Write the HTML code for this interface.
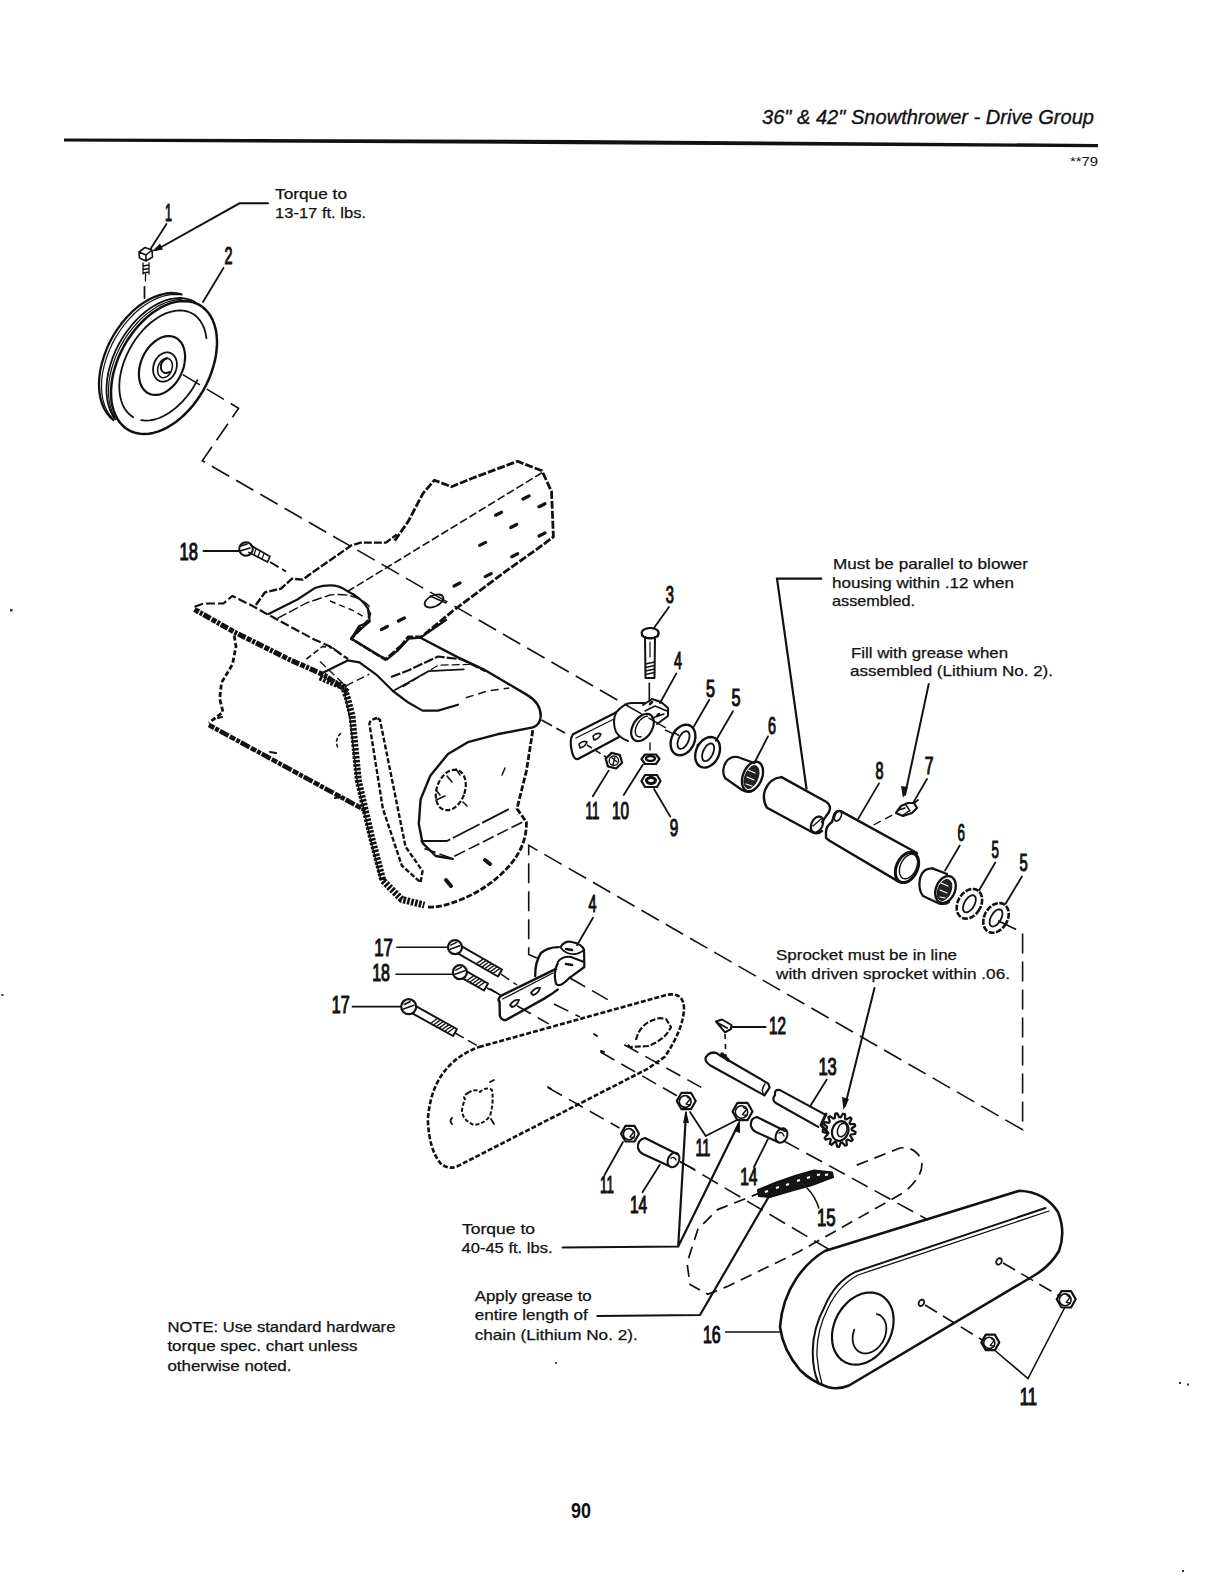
<!DOCTYPE html>
<html><head><meta charset="utf-8"><title>Drive Group</title>
<style>
html,body{margin:0;padding:0;background:#fff;width:1218px;height:1576px;overflow:hidden}
svg{display:block}
text{font-family:"Liberation Sans",sans-serif;fill:#111}
.t{font-size:15px;stroke:#111;stroke-width:0.25}
.n{font-size:23.5px;stroke:#111;stroke-width:1.15}
.k{fill:none;stroke:#111;stroke-linecap:round;stroke-linejoin:round}
.l{fill:none;stroke:#111;stroke-linecap:round}
.d{fill:none;stroke:#111}

</style></head><body>
<svg width="1218" height="1576" viewBox="0 0 1218 1576">
<rect width="1218" height="1576" fill="#fff"/>
<!-- header -->
<text x="762" y="124" font-size="20" font-style="italic" stroke="#111" stroke-width="0.35" textLength="332" lengthAdjust="spacingAndGlyphs">36" &amp; 42" Snowthrower - Drive Group</text>
<path d="M64 138.4 L580 140 L1098 144 L1098 147.2 L580 144.2 L64 141.6 Z" fill="#111"/>
<text x="1070" y="166" font-size="12" textLength="28" lengthAdjust="spacingAndGlyphs">**79</text>

<!-- text notes -->
<g class="t">
<text x="275" y="198.7" textLength="72" lengthAdjust="spacingAndGlyphs">Torque to</text>
<text x="275" y="218.3" textLength="91" lengthAdjust="spacingAndGlyphs">13-17 ft. lbs.</text>
<text x="833" y="568.5" textLength="195" lengthAdjust="spacingAndGlyphs">Must be parallel to blower</text>
<text x="832" y="588" textLength="182" lengthAdjust="spacingAndGlyphs">housing within .12 when</text>
<text x="832" y="606.4" textLength="83" lengthAdjust="spacingAndGlyphs">assembled.</text>
<text x="851" y="657.8" textLength="157" lengthAdjust="spacingAndGlyphs">Fill with grease when</text>
<text x="850" y="676.2" textLength="203" lengthAdjust="spacingAndGlyphs">assembled (Lithium No. 2).</text>
<text x="776" y="959.7" textLength="181" lengthAdjust="spacingAndGlyphs">Sprocket must be in line</text>
<text x="776" y="979.4" textLength="234" lengthAdjust="spacingAndGlyphs">with driven sprocket within .06.</text>
<text x="462" y="1234.2" textLength="73" lengthAdjust="spacingAndGlyphs">Torque to</text>
<text x="461.5" y="1253.4" textLength="91" lengthAdjust="spacingAndGlyphs">40-45 ft. lbs.</text>
<text x="474.7" y="1300.7" textLength="117" lengthAdjust="spacingAndGlyphs">Apply grease to</text>
<text x="474.7" y="1320" textLength="113" lengthAdjust="spacingAndGlyphs">entire length of</text>
<text x="474.7" y="1339.5" textLength="163" lengthAdjust="spacingAndGlyphs">chain (Lithium No. 2).</text>
<text x="167.4" y="1331.5" textLength="228" lengthAdjust="spacingAndGlyphs">NOTE: Use standard hardware</text>
<text x="167.4" y="1350.8" textLength="190" lengthAdjust="spacingAndGlyphs">torque spec. chart unless</text>
<text x="167.4" y="1371.3" textLength="124" lengthAdjust="spacingAndGlyphs">otherwise noted.</text>
</g>
<text x="571" y="1518.3" font-size="21.5" font-weight="bold" textLength="20" lengthAdjust="spacingAndGlyphs">90</text>

<!-- callout numbers -->
<g class="n" id="nums">
<text x="165" y="220.6" textLength="7" lengthAdjust="spacingAndGlyphs">1</text>
<text x="224.6" y="264" textLength="8" lengthAdjust="spacingAndGlyphs">2</text>
<text x="179.6" y="560" textLength="18.4" lengthAdjust="spacingAndGlyphs">18</text>
<text x="665.8" y="602.8" textLength="8.2" lengthAdjust="spacingAndGlyphs">3</text>
<text x="674" y="669.3" textLength="8" lengthAdjust="spacingAndGlyphs">4</text>
<text x="706" y="697.3" textLength="9" lengthAdjust="spacingAndGlyphs">5</text>
<text x="731.4" y="706.3" textLength="9" lengthAdjust="spacingAndGlyphs">5</text>
<text x="768" y="734.4" textLength="8" lengthAdjust="spacingAndGlyphs">6</text>
<text x="875.5" y="778.7" textLength="8" lengthAdjust="spacingAndGlyphs">8</text>
<text x="924.8" y="773.8" textLength="8.8" lengthAdjust="spacingAndGlyphs">7</text>
<text x="585.6" y="818.5" textLength="13.8" lengthAdjust="spacingAndGlyphs">11</text>
<text x="611.9" y="818.5" textLength="17" lengthAdjust="spacingAndGlyphs">10</text>
<text x="669.7" y="835.6" textLength="8.5" lengthAdjust="spacingAndGlyphs">9</text>
<text x="957.6" y="841" textLength="7.4" lengthAdjust="spacingAndGlyphs">6</text>
<text x="991.6" y="858" textLength="7.4" lengthAdjust="spacingAndGlyphs">5</text>
<text x="1019.6" y="871.3" textLength="8.2" lengthAdjust="spacingAndGlyphs">5</text>
<text x="588.5" y="912" textLength="8" lengthAdjust="spacingAndGlyphs">4</text>
<text x="374.2" y="955.5" textLength="18.7" lengthAdjust="spacingAndGlyphs">17</text>
<text x="372.2" y="981" textLength="17.8" lengthAdjust="spacingAndGlyphs">18</text>
<text x="331.8" y="1012.6" textLength="17.8" lengthAdjust="spacingAndGlyphs">17</text>
<text x="769" y="1033.7" textLength="17" lengthAdjust="spacingAndGlyphs">12</text>
<text x="818.4" y="1075" textLength="18.4" lengthAdjust="spacingAndGlyphs">13</text>
<text x="695.4" y="1155.5" textLength="14.9" lengthAdjust="spacingAndGlyphs">11</text>
<text x="600" y="1193.4" textLength="13.8" lengthAdjust="spacingAndGlyphs">11</text>
<text x="629.9" y="1213" textLength="17.2" lengthAdjust="spacingAndGlyphs">14</text>
<text x="740.2" y="1185.4" textLength="17.3" lengthAdjust="spacingAndGlyphs">14</text>
<text x="817" y="1225.6" textLength="18.6" lengthAdjust="spacingAndGlyphs">15</text>
<text x="702.9" y="1342.6" textLength="17.7" lengthAdjust="spacingAndGlyphs">16</text>
<text x="1019.7" y="1404.5" textLength="17.2" lengthAdjust="spacingAndGlyphs">11</text>
</g>


<!-- p_a -->
<path class="l" d="M268 203.3 L239.5 203.3 L156 250" stroke-width="2"/>
<path d="M152 251.5 L160 243.5 L163 249.5 Z" fill="#111"/>
<path class="l" stroke-width="1.8" d="M166.5 224 L150.5 249"/>
<path class="l" stroke-width="1.8" d="M223.5 268 L203 302"/>
<path class="k" stroke-width="1.6" d="M139 252 L145 247.5 L152 250 L152.5 257 L146 261 L139.5 258 Z M139 252 L146 255 L152 250 M146 255 L146 261"/>
<path class="k" stroke-width="1.3" d="M143 263 L143 274 M149 263 L149 274 M143 266 L149 265 M143 269.5 L149 268.5 M143 273 L149 272 M145.5 274 L145.5 281"/>
<path class="l" stroke-width="1.8" d="M144.5 287 L144.5 298"/>
<path class="k" stroke-width="2.3" d="M113.4 420.0 L109.7 416.6 L106.5 412.6 L103.8 408.0 L101.7 402.8 L100.2 397.1 L99.3 391.0 L99.0 384.5 L99.3 377.8 L100.2 370.8 L101.8 363.6 L103.9 356.5 L106.5 349.3 L109.7 342.3 L113.4 335.5 L117.6 328.9 L122.1 322.8 L127.0 317.0 L132.2 311.7 L137.6 307.0 L143.2 302.9 L148.9 299.5 L154.6 296.8 L160.3 294.8 L165.9 293.5 L171.3 293.0 L176.5 293.3 L181.4 294.4"/>
<path class="k" stroke-width="1.2" d="M112.9 418.8 L109.6 414.9 L106.8 410.4 L104.6 405.3 L102.9 399.7 L101.9 393.7 L101.5 387.2 L101.7 380.5 L102.5 373.5 L104.0 366.3 L106.0 359.2 L108.6 352.0 L111.7 344.9 L115.3 338.1 L119.4 331.5 L123.9 325.2 L128.8 319.4 L133.9 314.0 L139.3 309.2 L144.9 305.0 L150.6 301.5 L156.3 298.6 L162.0 296.5 L167.6 295.1 L173.1 294.5 L178.4 294.7"/>
<path class="k" stroke-width="1.8" d="M115.2 419.2 L112.3 414.9 L110.0 410.0 L108.3 404.6 L107.1 398.7 L106.5 392.5 L106.6 385.9 L107.2 379.0 L108.4 372.1 L110.3 365.0 L112.6 357.9 L115.5 350.9 L118.9 344.0 L122.8 337.4 L127.1 331.1 L131.7 325.2 L136.7 319.7 L141.9 314.7 L147.3 310.3 L152.9 306.5 L158.5 303.4 L164.2 300.9 L169.8 299.2 L175.3 298.3 L180.6 298.0 L185.6 298.6 L190.4 299.8 L194.8 301.9"/>
<path class="k" stroke-width="1.2" d="M114.8 417.2 L112.4 412.5 L110.6 407.2 L109.3 401.4 L108.6 395.2 L108.5 388.7 L109.0 382.0 L110.1 375.0 L111.8 368.0 L114.1 360.9 L116.8 353.9 L120.1 347.1 L123.9 340.4 L128.0 334.1 L132.6 328.1 L137.5 322.5 L142.6 317.4 L148.0 312.9 L153.5 308.9 L159.1 305.6 L164.7 303.0 L170.3 301.1 L175.8 299.9 L181.1 299.5"/>
<path class="k" stroke-width="2.5" d="M203.6 389.8 L200.3 395.2 L196.8 400.3 L193.1 405.2 L189.1 409.9 L184.9 414.2 L180.6 418.1 L176.2 421.7 L171.6 424.8 L167.0 427.6 L162.4 429.8 L157.8 431.6 L153.2 432.9 L148.7 433.7 L144.4 434.0 L140.1 433.8 L136.1 433.1 L132.3 431.8 L128.7 430.1 L125.4 428.0 L122.4 425.3 L119.7 422.2 L117.3 418.7 L115.3 414.9 L113.7 410.6 L112.4 406.0 L111.5 401.2 L111.1 396.0 L111.0 390.7 L111.4 385.2 L112.1 379.5 L113.2 373.8 L114.8 368.0 L116.7 362.2 L118.9 356.4 L121.5 350.8 L124.4 345.2 L127.7 339.8 L131.2 334.7 L134.9 329.8 L138.9 325.1 L143.1 320.8 L147.4 316.9 L151.8 313.3 L156.4 310.2 L161.0 307.4 L165.6 305.2 L170.2 303.4 L174.8 302.1 L179.3 301.3 L183.6 301.0 L187.9 301.2 L191.9 301.9 L195.7 303.2 L199.3 304.9 L202.6 307.0 L205.6 309.7 L208.3 312.8 L210.7 316.3 L212.7 320.1 L214.3 324.4 L215.6 329.0 L216.5 333.8 L216.9 339.0 L217.0 344.3 L216.6 349.8 L215.9 355.5 L214.8 361.2 L213.2 367.0 L211.3 372.8 L209.1 378.6 L206.5 384.2 L203.6 389.8"/>
<path class="k" stroke-width="1.8" d="M133.1 417.2 L129.9 414.8 L127.1 411.9 L124.6 408.5 L122.6 404.6 L121.1 400.2 L120.0 395.5 L119.4 390.4 L119.3 385.0 L119.7 379.4 L120.6 373.7 L122.0 367.8 L123.9 361.9 L126.2 356.1 L128.9 350.4 L132.0 344.8 L135.4 339.5 L139.2 334.5 L143.2 329.8 L147.5 325.5 L151.9 321.7 L156.5 318.4 L161.1 315.6 L165.8 313.4 L170.4 311.8 L174.9 310.8 L179.4 310.4 L183.6 310.6 L187.6 311.5 L191.3 313.0 L194.7 315.0 L197.7 317.7 L200.3 320.9 L202.5 324.6 L204.3 328.7 L205.6 333.3 L206.4 338.3"/>
<path class="k" stroke-width="1.8" d="M197.4 380.1 L194.2 385.9 L190.7 391.4 L186.8 396.5 L182.6 401.4 L178.2 405.7 L173.6 409.6 L168.9 413.0 L164.1 415.8 L159.3 418.0 L154.5 419.5 L149.9 420.4 L145.4 420.6 L141.1 420.2"/>
<path class="k" stroke-width="2.2" d="M181.0 374.4 L179.2 378.0 L177.0 381.3 L174.6 384.5 L171.9 387.2 L169.1 389.6 L166.2 391.6 L163.2 393.2 L160.2 394.3 L157.2 394.9 L154.3 394.9 L151.5 394.5 L148.9 393.6 L146.5 392.2 L144.4 390.3 L142.6 388.1 L141.1 385.4 L140.0 382.4 L139.3 379.1 L138.9 375.6 L139.0 371.9 L139.4 368.1 L140.2 364.2 L141.4 360.4 L143.0 356.6 L144.8 353.0 L147.0 349.7 L149.4 346.5 L152.1 343.8 L154.9 341.4 L157.8 339.4 L160.8 337.8 L163.8 336.7 L166.8 336.1 L169.7 336.1 L172.5 336.5 L175.1 337.4 L177.5 338.8 L179.6 340.7 L181.4 342.9 L182.9 345.6 L184.0 348.6 L184.7 351.9 L185.1 355.4 L185.0 359.1 L184.6 362.9 L183.8 366.8 L182.6 370.6 L181.0 374.4"/>
<path class="k" stroke-width="1.8" d="M175.8 370.9 L174.8 373.3 L173.4 375.5 L171.8 377.5 L170.0 379.1 L168.0 380.3 L166.0 381.2 L163.9 381.6 L161.8 381.6 L159.9 381.1 L158.1 380.2 L156.5 378.9 L155.2 377.2 L154.1 375.3 L153.4 373.0 L153.1 370.6 L153.1 368.1 L153.5 365.6 L154.2 363.1 L155.2 360.7 L156.6 358.5 L158.2 356.5 L160.0 354.9 L162.0 353.7 L164.0 352.8 L166.1 352.4 L168.2 352.4 L170.1 352.9 L171.9 353.8 L173.5 355.1 L174.8 356.8 L175.9 358.7 L176.6 361.0 L176.9 363.4 L176.9 365.9 L176.5 368.4 L175.8 370.9"/>
<path class="k" stroke-width="1.5" d="M171.6 370.4 L170.5 372.7 L169.0 374.8 L167.2 376.3 L165.3 377.3 L163.4 377.7 L161.6 377.4 L160.0 376.5 L158.7 374.9 L157.9 373.0 L157.6 370.6 L157.8 368.1 L158.4 365.6 L159.5 363.3 L161.0 361.2 L162.8 359.7 L164.7 358.7 L166.6 358.3 L168.4 358.6 L170.0 359.5 L171.3 361.1 L172.1 363.0 L172.4 365.4 L172.2 367.9 L171.6 370.4"/>
<path class="k" stroke-width="2" d="M167 358 Q 160 361 161 369 Q 163 375 170 372"/>
<path style="stroke-linecap:butt" class="d" stroke-dasharray="20 8" stroke-width="1.6" d="M182.8 374.6 L238.6 408.3 L202.3 460.8 L679 735.5"/>
<!-- p_b -->
<path class="l" stroke-width="1.8" d="M203.5 551 L238.7 551"/>
<circle cx="246" cy="549" r="6.8" class="k" stroke-width="2"/>
<path class="k" stroke-width="1.6" d="M241 546 L247 544 M240 551 L250 548"/>
<path class="k" stroke-width="1.8" d="M251 545.5 L270 556.5 L267.5 562 L249 552.5"/>
<path class="k" stroke-width="1.2" d="M256 549 L254 555 M260 551 L258 557 M264 553.5 L262 559"/>
<path style="stroke-linecap:butt" class="l" stroke-width="1.8" d="M270 562 L286 571.5" stroke-dasharray="10 4"/>
<path style="stroke-linecap:butt" class="k" stroke-width="2.8" stroke-dasharray="8 2" d="M394.8 540.6 L408 521.8 L423 493.4 L434.4 480.2 L451.4 486.8 L472.2 478.3 L517.5 461.3 L542 470.8 L551.5 491.5 L553.4 536.9 L538.3 548.2 L506.2 570.9 L453.3 610.5 L421.2 637 L408 637 L402.3 644.5"/>
<path style="stroke-linecap:butt" class="k" stroke-width="1.6" stroke-dasharray="8 3" d="M542 472.7 L346.7 592"/>
<ellipse cx="434" cy="601" rx="10" ry="5.5" transform="rotate(-25 434 601)" class="k" stroke-width="1.8"/>
<path class="k" stroke-width="1.4" d="M430 596 L446 603"/>
<path d="M523 499 L529 496" stroke="#111" stroke-width="3.2" stroke-linecap="round"/>
<path d="M539 506.7 L545 503.7" stroke="#111" stroke-width="3.2" stroke-linecap="round"/>
<path d="M495.6 515.2 L501.6 512.2" stroke="#111" stroke-width="3.2" stroke-linecap="round"/>
<path d="M510.70000000000005 527.5 L516.7 524.5" stroke="#111" stroke-width="3.2" stroke-linecap="round"/>
<path d="M539 536 L545 533" stroke="#111" stroke-width="3.2" stroke-linecap="round"/>
<path d="M479.6 545.4 L485.6 542.4" stroke="#111" stroke-width="3.2" stroke-linecap="round"/>
<path d="M511.70000000000005 556.7 L517.7 553.7" stroke="#111" stroke-width="3.2" stroke-linecap="round"/>
<path d="M485.2 576.6 L491.2 573.6" stroke="#111" stroke-width="3.2" stroke-linecap="round"/>
<path d="M454 586 L460 583" stroke="#111" stroke-width="3.2" stroke-linecap="round"/>
<path d="M398.4 621 L404.4 618" stroke="#111" stroke-width="3.2" stroke-linecap="round"/>
<path d="M381.4 629.5 L387.4 626.5" stroke="#111" stroke-width="3.2" stroke-linecap="round"/>
<path style="stroke-linecap:butt" class="k" stroke-width="2.6" stroke-dasharray="8 2" d="M402.3 644.5 L385.3 659.6 L351.3 638.8 L368.3 620 L370.2 612.4"/>
<path class="k" stroke-width="2.4" d="M351.5 638.7 L359.4 626 L369 622"/>
<path class="k" stroke-width="2.2" d="M351.5 638.7 L379 655.5 L387 659.4 L398.8 649.6 L408.7 638.7 L420.5 637.7 L446 620"/>
<path style="stroke-linecap:butt" class="k" stroke-width="2.2" stroke-dasharray="9 3" d="M194.5 606.7 L203.5 603.5 L223.4 603.5 L232.4 595.9 L254 606.7 L265 613 L313.7 639.2 L330 646.4 L348 659"/>
<path style="stroke-linecap:butt" class="k" stroke-width="5.2" stroke-dasharray="5 1.2 3 1.2 8 1.5" d="M194.5 609.4 L234.2 632 L288.4 659 L324.5 675.3 L348 691.6"/>
<path style="stroke-linecap:butt" class="k" stroke-width="2.8" stroke-dasharray="5 2.5" d="M234.2 635.6 L236 646.4 L232.4 664.5 L221.5 682.6 L219.7 698.8 L223 712 L208.9 723"/>
<path style="stroke-linecap:butt" class="k" stroke-width="4.6" stroke-dasharray="6 1.2 4 1.2 10 1.5" d="M208.9 725 L366.5 811"/>
<path class="k" stroke-width="2" d="M218 718 L222 717 M270 752 L276 753 M335 798 L342 797"/>
<path style="stroke-linecap:butt" class="k" stroke-width="2.4" stroke-dasharray="8 2" d="M255.9 605 L265 592.3 L281 588.6 L292 578.7 L302.8 579.6 L310 574.2 L351.6 545.3 L360.6 542.6 L386 542.6 L396.8 534.5"/>
<path class="k" stroke-width="2.2" d="M268.5 614 L297.4 599.5 L315.5 587.7 Q 335 582 346.2 590.4 Q 362 598 367.9 608.5 L369.7 621.2 L351.6 637.4"/>
<path style="stroke-linecap:butt" class="k" stroke-width="1.4" stroke-dasharray="10 3" d="M277.5 618.4 L306.4 603 L330 595 Q 355 592 369 606 L369.7 615.7"/>
<path style="stroke-linecap:butt" class="k" stroke-width="1.4" stroke-dasharray="6 4" d="M330 601 L352 610 L366 618"/>
<path style="stroke-linecap:butt" class="k" stroke-width="1.6" stroke-dasharray="6 3" d="M306.4 659 L322.7 646.4 L333.5 648.3 L344.4 657.3"/>
<path class="k" stroke-width="2.2" d="M322 673.2 L347.6 660.4 L359.4 662.4 L377 675.2 L392.9 691 L408.7 702.8 L422.5 710.6 L438 710.6 L458 704.7"/>
<path style="stroke-linecap:butt" class="k" stroke-width="2.2" stroke-dasharray="10 2" d="M391 677 L408.7 670.2 L438 656.5 L461.9 659.4 L485.5 671.2"/>
<path class="k" stroke-width="1.8" d="M394.9 690 L428.4 671.2 L463.8 669.3"/>
<path style="stroke-linecap:butt" class="k" stroke-width="1.3" stroke-dasharray="8 3" d="M402.8 687 L438 665.3 L469.8 664.3"/>
<path style="stroke-linecap:butt" class="k" stroke-width="1.5" stroke-dasharray="8 5" d="M465.8 697.8 L487.5 691 L509.2 688"/>
<path style="stroke-linecap:butt" class="k" stroke-width="1.4" stroke-dasharray="8 4" d="M320 661.4 L345.6 686 L369.3 674.2"/>
<path class="k" stroke-width="2.4" d="M420.5 637.7 L458 657.4 L483.5 669.3 L527 694.9 Q 541 703 540.7 716.6 Q 540 725 532.8 727.4 L497.3 734.3 L467.8 742.2 L448 754 L430.3 775.7 L420.6 799.4 L418.8 824 L422.5 842.8 L435.7 856 L452.7 858.9"/>
<path style="stroke-linecap:butt" class="k" stroke-width="2.8" stroke-dasharray="6 2" d="M532.8 730.3 L526.4 771 L517 808.8 L526.4 822 Q 527 845 510 865 Q 490 888 460 900 Q 440 908 428 907"/>
<path style="stroke-linecap:butt" class="k" stroke-width="7" stroke-dasharray="2.6 1.4" d="M320 677.1 L343.6 687 L347.6 698.8 L352 716 L358.3 780.5 L371.5 837.2 L382.9 880.6 L401.8 899.5 L424.4 905.1"/>
<path class="k" stroke-width="1.5" d="M343 686 L350 718 L357 780 L370 837 L381 880"/>
<path style="stroke-linecap:butt" class="k" stroke-width="1.5" stroke-dasharray="4 2" d="M341 733 Q 334 740 338 748"/>
<path style="stroke-linecap:butt" class="k" stroke-width="2.4" stroke-dasharray="5 2" d="M377.2 718 Q 368 720 369.7 725.7 L382.9 808.8 L401.8 865.5 L420.6 882.5 L422.5 871 L405.5 846.6 L380 720 Z"/>
<path style="stroke-linecap:butt" class="k" stroke-width="1.8" stroke-dasharray="30 3" d="M420.6 841 L447 841 L509.4 808.8"/>
<path style="stroke-linecap:butt" class="k" stroke-width="1.6" stroke-dasharray="12 4" d="M424.4 848.5 L450.9 858 L522.6 822"/>
<path style="stroke-linecap:butt" class="k" stroke-width="2.2" stroke-dasharray="5 2" d="M464.0 794.8 L462.7 797.8 L461.1 800.7 L459.3 803.2 L457.2 805.5 L455.0 807.3 L452.7 808.8 L450.4 809.8 L448.0 810.2 L445.8 810.2 L443.6 809.7 L441.6 808.7 L439.9 807.3 L438.4 805.4 L437.3 803.2 L436.4 800.6 L435.9 797.7 L435.8 794.7 L436.1 791.5 L436.7 788.4 L437.6 785.2 L438.9 782.2 L440.5 779.3 L442.3 776.8 L444.4 774.5 L446.6 772.7 L448.9 771.2 L451.2 770.2 L453.6 769.8 L455.8 769.8 L458.0 770.3 L460.0 771.3 L461.7 772.7 L463.2 774.6 L464.3 776.8 L465.2 779.4 L465.7 782.3 L465.8 785.3 L465.5 788.5 L464.9 791.6 L464.0 794.8"/>
<path class="k" stroke-width="1.6" d="M436 800 L445 796 M447 776 L452 782 M440 795 L436 790 M463 802 L467 806"/>
<path class="k" stroke-width="1.5" d="M456 769 L460 775 M505 768 L502 775"/>
<path d="M485 860 L490 864 M446 880 L451 886" stroke="#111" stroke-width="4" stroke-linecap="round"/>
<!-- p_c -->
<path class="l" stroke-width="1.8" d="M669 607 L654.3 627.5"/>
<path class="l" stroke-width="1.8" d="M676.4 673.4 L660 703"/>
<path class="l" stroke-width="1.8" d="M709.3 699.7 L693.7 726.8"/>
<path class="l" stroke-width="1.8" d="M733 711.2 L715.8 740.8"/>
<path class="l" stroke-width="1.8" d="M592.8 796.2 L608.6 770.6"/>
<path class="l" stroke-width="1.8" d="M623.7 794.9 L642.8 764.7"/>
<path class="l" stroke-width="1.8" d="M670.3 816.6 L654 789"/>
<path class="k" stroke-width="2.2" d="M658.7 633.2 L658.5 634.3 L658.0 635.3 L657.1 636.3 L655.9 637.1 L654.5 637.7 L652.8 638.1 L651.1 638.4 L649.3 638.4 L647.6 638.1 L646.0 637.7 L644.5 637.1 L643.3 636.3 L642.4 635.3 L641.9 634.3 L641.7 633.2 L641.9 632.1 L642.4 631.1 L643.3 630.1 L644.5 629.3 L646.0 628.7 L647.6 628.3 L649.3 628.0 L651.1 628.0 L652.8 628.3 L654.5 628.7 L655.9 629.3 L657.1 630.1 L658.0 631.1 L658.5 632.1 L658.7 633.2"/>
<path class="k" stroke-width="1.6"  d="M642 633 L642 636 Q 650 640 658 636 L658 633"/>
<path class="k" stroke-width="2"  d="M645 637 L645.5 678 L654.5 678 L655 637"/>
<path class="k" stroke-width="1.2"  d="M650 642 L650 657"/>
<path class="k" stroke-width="1.4"  d="M645.5 664 L654.5 662 M645.5 667.5 L654.5 665.5 M645.5 671 L654.5 669 M645.5 674.5 L654.5 672.5"/>
<path class="l" stroke-width="1.6" d="M649.3 683.3 L649.3 701.4"/>
<path class="k" stroke-width="2.2"  d="M573 734.2 Q 569 740 572 752 Q 574 760 578 759 L619 737 M573 734.2 L616 712.5"/>
<path class="k" stroke-width="1.3"  d="M576 738 L614 719"/>
<path class="k" stroke-width="1.6"  d="M579 744 Q 583 740 587 742 Q 585 747 580 748 Z M593 736 Q 597 732 601 734 Q 599 739 594 740 Z"/>
<path class="k" stroke-width="2"  d="M616 712.5 Q 612 722 616 732 Q 620 738 628 741"/>
<path class="k" stroke-width="2"  d="M616 712.5 Q 625 702 633 703 L645 703"/>
<path class="k" stroke-width="2.2" d="M650.6 732.5 L649.1 734.7 L647.4 736.6 L645.5 738.2 L643.6 739.5 L641.6 740.5 L639.6 741.0 L637.8 741.2 L636.1 740.9 L634.6 740.2 L633.3 739.2 L632.3 737.7 L631.6 736.0 L631.2 734.0 L631.2 731.8 L631.5 729.5 L632.2 727.1 L633.2 724.8 L634.4 722.5 L635.9 720.3 L637.6 718.4 L639.5 716.8 L641.4 715.5 L643.4 714.5 L645.4 714.0 L647.2 713.8 L648.9 714.1 L650.4 714.8 L651.7 715.8 L652.7 717.3 L653.4 719.0 L653.8 721.0 L653.8 723.2 L653.5 725.5 L652.8 727.9 L651.8 730.2 L650.6 732.5"/>
<path class="k" stroke-width="1.4" d="M641.0 736.7 L639.7 736.8 L638.6 736.7 L637.6 736.3 L636.7 735.7 L636.0 734.8 L635.6 733.6 L635.3 732.3 L635.3 730.8 L635.5 729.2 L635.9 727.5 L636.6 725.8 L637.4 724.1 L638.4 722.5 L639.5 720.9 L640.7 719.6 L642.1 718.4 L643.4 717.5 L644.8 716.8 L646.1 716.3 L647.3 716.2"/>
<path class="k" stroke-width="2"  d="M643 705 L652 699 L661 702 L668 708 L668 716 L657 724"/>
<path class="k" stroke-width="1.5"  d="M645 711 L655 706 L667 711 M652 718 L664 714"/>
<path class="k" stroke-width="2.5"  d="M650 704 L652 702 M657 716 L659 714"/>
<path style="stroke-linecap:butt" class="d" stroke-width="1.5" stroke-dasharray="10 6" d="M665 730 L676 735"/>
<path style="stroke-linecap:butt" class="d" stroke-width="1.6" stroke-dasharray="12 5" d="M541.5 720 L565 733"/>
<path style="stroke-linecap:butt" class="d" stroke-width="1.5" stroke-dasharray="6 4" d="M587 745 L606 757"/>
<path class="k" stroke-width="2.4" d="M693.4 744.9 L692.1 747.3 L690.5 749.5 L688.6 751.5 L686.6 753.0 L684.5 754.2 L682.4 755.0 L680.2 755.3 L678.2 755.1 L676.2 754.5 L674.5 753.4 L673.1 752.0 L671.9 750.1 L671.1 748.0 L670.7 745.6 L670.6 743.0 L670.9 740.4 L671.6 737.7 L672.6 735.1 L673.9 732.7 L675.5 730.5 L677.4 728.5 L679.4 727.0 L681.5 725.8 L683.6 725.0 L685.8 724.7 L687.8 724.9 L689.8 725.5 L691.5 726.6 L692.9 728.0 L694.1 729.9 L694.9 732.0 L695.3 734.4 L695.4 737.0 L695.1 739.6 L694.4 742.3 L693.4 744.9"/>
<path class="k" stroke-width="1.8" d="M688.0 742.1 L686.8 744.3 L685.4 746.1 L683.9 747.6 L682.3 748.5 L680.8 748.9 L679.5 748.6 L678.4 747.8 L677.8 746.4 L677.5 744.6 L677.6 742.5 L678.1 740.2 L679.0 737.9 L680.2 735.7 L681.6 733.9 L683.1 732.4 L684.7 731.5 L686.2 731.1 L687.5 731.4 L688.6 732.2 L689.2 733.6 L689.5 735.4 L689.4 737.5 L688.9 739.8 L688.0 742.1"/>
<path class="k" stroke-width="2.4" d="M718.0 757.2 L716.7 759.6 L715.1 761.8 L713.2 763.8 L711.2 765.3 L709.1 766.5 L707.0 767.3 L704.8 767.6 L702.8 767.4 L700.8 766.8 L699.1 765.7 L697.7 764.3 L696.5 762.4 L695.7 760.3 L695.3 757.9 L695.2 755.3 L695.5 752.7 L696.2 750.0 L697.2 747.4 L698.5 745.0 L700.1 742.8 L702.0 740.8 L704.0 739.3 L706.1 738.1 L708.2 737.3 L710.4 737.0 L712.4 737.2 L714.4 737.8 L716.1 738.9 L717.5 740.3 L718.7 742.2 L719.5 744.3 L719.9 746.7 L720.0 749.3 L719.7 751.9 L719.0 754.6 L718.0 757.2"/>
<path class="k" stroke-width="1.8" d="M712.6 754.4 L711.4 756.6 L710.0 758.4 L708.5 759.9 L706.9 760.8 L705.4 761.2 L704.1 760.9 L703.0 760.1 L702.4 758.7 L702.1 756.9 L702.2 754.8 L702.7 752.5 L703.6 750.2 L704.8 748.0 L706.2 746.2 L707.7 744.7 L709.3 743.8 L710.8 743.4 L712.1 743.7 L713.2 744.5 L713.8 745.9 L714.1 747.7 L714.0 749.8 L713.5 752.1 L712.6 754.4"/>
<path class="k" stroke-width="1.2"  d="M675 730 L678 728 M697 745 L700 743"/>
<path class="k" stroke-width="2.2"  d="M622.1 762.8 L616.1 768.5 L607.9 766.4 L605.7 758.6 L611.7 752.9 L619.9 755.0 Z"/><circle class="k" stroke-width="1.4" cx="613.9" cy="760.7" r="4.7"/><path class="k" stroke-width="1.4"  d="M611.9 757.7 L616.9 761.7 M614.9 757.7 L612.9 764.7"/>
<path class="k" stroke-width="2.2"  d="M641.5 759 L645 754.5 L656 754.5 L659.5 759 L656 764 L645 764 Z"/>
<path class="k" stroke-width="2.4" d="M655.0 758.5 L654.8 759.3 L654.1 760.0 L653.1 760.5 L651.9 760.9 L650.5 761.0 L649.1 760.9 L647.9 760.5 L646.9 760.0 L646.2 759.3 L646.0 758.5 L646.2 757.7 L646.9 757.0 L647.9 756.5 L649.1 756.1 L650.5 756.0 L651.9 756.1 L653.1 756.5 L654.1 757.0 L654.8 757.7 L655.0 758.5"/>
<path class="l" stroke-width="1.4" d="M650 743 L650 750"/>
<path class="k" stroke-width="2.2"  d="M641.5 781 L645 775 L657 775 L660.5 781 L657 787 L645 787 Z"/>
<path class="k" stroke-width="3" d="M655.5 780.5 L655.3 781.4 L654.6 782.3 L653.6 782.9 L652.4 783.4 L651.0 783.5 L649.6 783.4 L648.4 782.9 L647.4 782.3 L646.7 781.4 L646.5 780.5 L646.7 779.6 L647.4 778.7 L648.4 778.1 L649.6 777.6 L651.0 777.5 L652.4 777.6 L653.6 778.1 L654.6 778.7 L655.3 779.6 L655.5 780.5"/>
<!-- p_d -->
<path class="l" stroke-width="2.2" d="M821.3 578.7 L777 578.7 L806.5 788.6"/>
<path class="l" stroke-width="2" d="M928.7 684.1 L905 795"/>
<path d="M903 798 L901 786 L908 787 Z" fill="#111"/>
<path class="l" stroke-width="1.8" d="M768 736.4 L754.3 763"/>
<path class="l" stroke-width="1.8" d="M879 783.4 L858.3 818.6"/>
<path class="l" stroke-width="1.8" d="M927 779 L913.4 802.4"/>
<path class="l" stroke-width="1.8" d="M959.8 845.5 L945 870.6"/>
<path class="l" stroke-width="1.8" d="M995.3 862.5 L979 890.5"/>
<path class="l" stroke-width="1.8" d="M1021.9 876.5 L1005.6 903.8"/>
<path class="k" stroke-width="2.2"  d="M737.6 757 Q 730 756 726 762 Q 721 770 725 778 L742 790 Q 749 794 754 790"/>
<path class="k" stroke-width="2.2"  d="M737.6 757 L754.3 763"/>
<path class="k" stroke-width="2.4" d="M761.3 780.1 L760.2 782.5 L758.8 784.8 L757.2 786.8 L755.5 788.5 L753.7 789.8 L751.9 790.7 L750.1 791.2 L748.3 791.3 L746.7 790.9 L745.3 790.0 L744.0 788.8 L743.1 787.2 L742.4 785.2 L742.0 783.0 L742.0 780.6 L742.2 778.1 L742.8 775.5 L743.7 772.9 L744.8 770.5 L746.2 768.2 L747.8 766.2 L749.5 764.5 L751.3 763.2 L753.1 762.3 L754.9 761.8 L756.7 761.7 L758.3 762.1 L759.7 763.0 L761.0 764.2 L761.9 765.8 L762.6 767.8 L763.0 770.0 L763.0 772.4 L762.8 774.9 L762.2 777.5 L761.3 780.1"/>
<path d="M757.5 779.4 L756.2 782.2 L754.5 784.7 L752.6 786.6 L750.6 787.9 L748.7 788.4 L747.0 788.1 L745.6 787.1 L744.6 785.4 L744.1 783.1 L744.0 780.5 L744.5 777.5 L745.5 774.6 L746.8 771.8 L748.5 769.3 L750.4 767.4 L752.4 766.1 L754.3 765.6 L756.0 765.9 L757.4 766.9 L758.4 768.6 L758.9 770.9 L759.0 773.5 L758.5 776.5 L757.5 779.4" fill="#222" stroke="#111" stroke-width="1"/>
<path class="k" stroke-width="1.2" style="stroke:#fff" d="M748 770 L755 773 M747 777 L754 780 M746 784 L752 786"/>
<path class="k" stroke-width="2.4"  d="M781.5 777.1 Q 770 778 765 790 Q 762 800 767 807.8 L812.3 832.2 Q 818 835 822 831"/>
<path class="k" stroke-width="2.4"  d="M781.5 777.1 L826.5 802 Q 832 806 829 812 L822 822"/>
<path class="k" stroke-width="2.2" d="M822.0 826.8 L820.9 828.7 L819.5 830.4 L818.0 831.6 L816.4 832.3 L814.8 832.5 L813.4 832.2 L812.2 831.3 L811.4 830.0 L810.9 828.3 L810.9 826.3 L811.3 824.2 L812.0 822.2 L813.1 820.3 L814.5 818.6 L816.0 817.4 L817.6 816.7 L819.2 816.5 L820.6 816.8 L821.8 817.7 L822.6 819.0 L823.1 820.7 L823.1 822.7 L822.7 824.8 L822.0 826.8"/>
<path class="k" stroke-width="1.4"  d="M813 826 L821 819"/>
<path class="k" stroke-width="2.4"  d="M841.2 811.4 Q 836 810 834 815 L832 822 Q 826 826 826 832 L826 838 L830 841 L899 881.9"/>
<path class="k" stroke-width="2.4"  d="M841.2 811.4 L917 853"/>
<path class="k" stroke-width="3" d="M916.5 871.9 L915.2 874.4 L913.6 876.6 L911.9 878.6 L909.9 880.2 L907.9 881.5 L905.9 882.3 L903.9 882.6 L902.0 882.6 L900.2 882.0 L898.7 881.0 L897.4 879.6 L896.4 877.8 L895.7 875.8 L895.4 873.4 L895.4 870.9 L895.7 868.3 L896.5 865.6 L897.5 863.1 L898.8 860.6 L900.4 858.4 L902.1 856.4 L904.1 854.8 L906.1 853.5 L908.1 852.7 L910.1 852.4 L912.0 852.4 L913.8 853.0 L915.3 854.0 L916.6 855.4 L917.6 857.2 L918.3 859.2 L918.6 861.6 L918.6 864.1 L918.3 866.7 L917.5 869.4 L916.5 871.9"/>
<path class="k" stroke-width="1.4" d="M915.8 869.9 L914.7 871.9 L913.4 873.7 L912.0 875.3 L910.5 876.7 L909.0 877.7 L907.4 878.4 L905.8 878.7 L904.3 878.7 L903.0 878.3 L901.8 877.5 L900.9 876.4 L900.1 875.0 L899.6 873.4 L899.4 871.5 L899.5 869.5 L899.8 867.4 L900.4 865.2 L901.2 863.1 L902.3 861.1 L903.6 859.3 L905.0 857.7 L906.5 856.3 L908.0 855.3 L909.6 854.6 L911.2 854.3 L912.7 854.3 L914.0 854.7 L915.2 855.5 L916.1 856.6 L916.9 858.0 L917.4 859.6 L917.6 861.5 L917.5 863.5 L917.2 865.6 L916.6 867.8 L915.8 869.9"/>
<path class="k" stroke-width="1.6" d="M840.7 817.3 L839.9 818.7 L838.8 820.0 L837.7 820.8 L836.6 821.1 L835.7 821.0 L834.9 820.3 L834.5 819.3 L834.4 817.9 L834.7 816.3 L835.3 814.7 L836.1 813.3 L837.2 812.0 L838.3 811.2 L839.4 810.9 L840.3 811.0 L841.1 811.7 L841.5 812.7 L841.6 814.1 L841.3 815.7 L840.7 817.3"/>
<path class="k" stroke-width="2.2"  d="M896 813 L901 806 L908 803 L914 803 L917 808 L912 813 L903 816 Z"/>
<path class="k" stroke-width="1.4"  d="M899 810 L905 808 M903 815 L909 811 M906 805 L910 811"/>
<path class="k" stroke-width="2"  d="M914 803 L918 800"/>
<path style="stroke-linecap:butt" class="d" stroke-width="1.4" stroke-dasharray="8 5" d="M873.7 825 L896 813"/>
<path class="k" stroke-width="2.2"  d="M932.5 868.4 Q 923 868 920 878 Q 918 890 923 896 L939 903.5 Q 945 905 949 902"/>
<path class="k" stroke-width="2.2"  d="M932.5 868.4 L947 874"/>
<path class="k" stroke-width="2.4" d="M954.3 893.1 L953.3 895.3 L952.0 897.3 L950.5 899.1 L948.9 900.6 L947.1 901.7 L945.4 902.5 L943.6 902.9 L941.9 902.9 L940.3 902.5 L938.8 901.7 L937.6 900.5 L936.6 899.0 L935.8 897.2 L935.4 895.1 L935.2 892.9 L935.4 890.6 L935.9 888.2 L936.7 885.9 L937.7 883.7 L939.0 881.7 L940.5 879.9 L942.1 878.4 L943.9 877.3 L945.6 876.5 L947.4 876.1 L949.1 876.1 L950.7 876.5 L952.2 877.3 L953.4 878.5 L954.4 880.0 L955.2 881.8 L955.6 883.9 L955.8 886.1 L955.6 888.4 L955.1 890.8 L954.3 893.1"/>
<path d="M950.5 892.4 L949.3 895.0 L947.7 897.2 L945.8 898.9 L943.9 900.1 L942.1 900.5 L940.4 900.2 L939.0 899.2 L937.9 897.6 L937.3 895.5 L937.2 893.0 L937.6 890.3 L938.5 887.6 L939.7 885.0 L941.3 882.8 L943.2 881.1 L945.1 879.9 L946.9 879.5 L948.6 879.8 L950.0 880.8 L951.1 882.4 L951.7 884.5 L951.8 887.0 L951.4 889.7 L950.5 892.4" fill="#222" stroke="#111" stroke-width="1"/>
<path class="k" stroke-width="1.2" style="stroke:#fff" d="M941 883 L948 886 M940 890 L947 893 M940 897 L945 898"/>
<path style="stroke-linecap:butt" class="k" stroke-width="2.6" stroke-dasharray="6 1.5" d="M979.4 909.5 L977.8 911.8 L976.1 913.9 L974.1 915.6 L972.0 917.0 L969.7 918.0 L967.5 918.5 L965.4 918.6 L963.3 918.3 L961.5 917.5 L959.9 916.3 L958.6 914.7 L957.6 912.8 L956.9 910.6 L956.7 908.2 L956.8 905.7 L957.3 903.1 L958.2 900.5 L959.4 898.0 L961.0 895.8 L962.7 893.7 L964.7 892.0 L966.8 890.6 L969.1 889.6 L971.3 889.1 L973.4 889.0 L975.5 889.3 L977.3 890.1 L978.9 891.3 L980.2 892.9 L981.2 894.8 L981.9 897.0 L982.1 899.4 L982.0 901.9 L981.5 904.5 L980.6 907.1 L979.4 909.5"/>
<path class="k" stroke-width="1.8" d="M973.7 906.3 L972.4 908.3 L970.8 910.1 L969.1 911.4 L967.5 912.2 L965.9 912.4 L964.6 912.0 L963.7 911.1 L963.1 909.7 L963.0 907.8 L963.3 905.7 L964.0 903.5 L965.1 901.3 L966.4 899.3 L968.0 897.5 L969.7 896.2 L971.3 895.4 L972.9 895.2 L974.1 895.6 L975.1 896.5 L975.7 897.9 L975.8 899.8 L975.5 901.9 L974.8 904.1 L973.7 906.3"/>
<path style="stroke-linecap:butt" class="k" stroke-width="2.6" stroke-dasharray="6 1.5" d="M1006.0 923.6 L1004.4 925.9 L1002.7 928.0 L1000.7 929.7 L998.6 931.1 L996.3 932.1 L994.1 932.6 L992.0 932.7 L989.9 932.4 L988.1 931.6 L986.5 930.4 L985.2 928.8 L984.2 926.9 L983.5 924.7 L983.3 922.3 L983.4 919.8 L983.9 917.2 L984.8 914.6 L986.0 912.1 L987.6 909.9 L989.3 907.8 L991.3 906.1 L993.4 904.7 L995.7 903.7 L997.9 903.2 L1000.0 903.1 L1002.1 903.4 L1003.9 904.2 L1005.5 905.4 L1006.8 907.0 L1007.8 908.9 L1008.5 911.1 L1008.7 913.5 L1008.6 916.0 L1008.1 918.6 L1007.2 921.2 L1006.0 923.6"/>
<path class="k" stroke-width="1.8" d="M1000.3 920.4 L999.0 922.4 L997.4 924.2 L995.7 925.5 L994.1 926.3 L992.5 926.5 L991.2 926.1 L990.3 925.2 L989.7 923.8 L989.6 921.9 L989.9 919.8 L990.6 917.6 L991.7 915.4 L993.0 913.4 L994.6 911.6 L996.3 910.3 L997.9 909.5 L999.5 909.3 L1000.8 909.7 L1001.7 910.6 L1002.3 912.0 L1002.4 913.9 L1002.1 916.0 L1001.4 918.2 L1000.3 920.4"/>
<path style="stroke-linecap:butt" class="d" stroke-width="1.6" stroke-dasharray="20 8" d="M998.2 920.8 L1022.6 932.6 L1022.6 1129.7 L528.7 845.3 L528.7 954.5 L536.8 958"/>
<!-- p_e -->
<path class="l" stroke-width="1.8" d="M593 917.7 L577 945.3"/>
<path class="l" stroke-width="1.6" d="M396.8 947.2 L447 947.2"/>
<path class="l" stroke-width="1.6" d="M395.9 974.2 L452 974.2"/>
<path class="l" stroke-width="1.8" d="M352.5 1006.7 L401 1006.7"/>
<path class="k" stroke-width="2"  d="M458.2 953.7 L498.0 976.5 L502.0 969.5 L462.2 946.7"/>
<circle class="k" stroke-width="2.2" cx="455" cy="947.2" r="7"/>
<path class="k" stroke-width="1.5"  d="M450.8 945.1 L456.4 942.3 M450.1 949.3 L459.9 945.8"/>
<path class="k" stroke-width="1.3"  d="M476.9 963.4 L482.6 959.4"/>
<path class="k" stroke-width="1.3"  d="M479.6 965.0 L485.4 961.0"/>
<path class="k" stroke-width="1.3"  d="M482.4 966.6 L488.2 962.5"/>
<path class="k" stroke-width="1.3"  d="M485.2 968.2 L491.0 964.1"/>
<path class="k" stroke-width="1.3"  d="M488.0 969.8 L493.7 965.7"/>
<path class="k" stroke-width="1.3"  d="M490.7 971.4 L496.5 967.3"/>
<path class="k" stroke-width="1.3"  d="M493.5 973.0 L499.3 968.9"/>
<path class="k" stroke-width="2"  d="M463.1 978.6 L484.0 990.5 L488.0 983.5 L467.1 971.7"/>
<circle class="k" stroke-width="2.2" cx="459.9" cy="972.2" r="7"/>
<path class="k" stroke-width="1.5"  d="M455.7 970.1 L461.3 967.3 M455.0 974.3 L464.8 970.8"/>
<path class="k" stroke-width="1.3"  d="M467.5 980.2 L473.2 976.1"/>
<path class="k" stroke-width="1.3"  d="M470.2 981.7 L476.0 977.7"/>
<path class="k" stroke-width="1.3"  d="M473.0 983.3 L478.8 979.2"/>
<path class="k" stroke-width="1.3"  d="M475.8 984.9 L481.6 980.8"/>
<path class="k" stroke-width="1.3"  d="M478.6 986.5 L484.4 982.4"/>
<path class="k" stroke-width="2"  d="M412.4 1013.4 L453.1 1036.0 L456.9 1029.0 L416.3 1006.4"/>
<circle class="k" stroke-width="2.2" cx="408.7" cy="1006.7" r="7.5"/>
<path class="k" stroke-width="1.5"  d="M404.2 1004.5 L410.2 1001.5 M403.4 1009.0 L413.9 1005.2"/>
<path class="k" stroke-width="1.3"  d="M431.3 1023.0 L437.0 1018.8"/>
<path class="k" stroke-width="1.3"  d="M434.1 1024.5 L439.8 1020.4"/>
<path class="k" stroke-width="1.3"  d="M436.9 1026.1 L442.6 1021.9"/>
<path class="k" stroke-width="1.3"  d="M439.7 1027.6 L445.4 1023.5"/>
<path class="k" stroke-width="1.3"  d="M442.5 1029.2 L448.2 1025.1"/>
<path class="k" stroke-width="1.3"  d="M445.3 1030.7 L451.0 1026.6"/>
<path class="k" stroke-width="1.3"  d="M448.1 1032.3 L453.8 1028.2"/>
<path style="stroke-linecap:butt" class="d" stroke-width="1.5" stroke-dasharray="10 5" d="M501 974.2 L517 985 M487 988 L501 995 M455 1033 L478 1046"/>
<path class="k" stroke-width="2.4"  d="M500.8 995.9 Q 497 1000 499.5 1001.3 L499.9 1015.8 Q 501 1020 505.4 1020.3 L544.2 998.6 Q 552 994 557.7 989.6"/>
<path class="k" stroke-width="2.4"  d="M500.8 995.9 L556 968.8"/>
<path class="k" stroke-width="1.3"  d="M502.6 999 L553 973"/>
<path class="k" stroke-width="1.8"  d="M510 1005 Q 514 999 519 1000 Q 517 1006 512 1007 Z M531 993 Q 535 987 540 988 Q 538 994 533 995 Z"/>
<path class="k" stroke-width="2.4"  d="M535.2 976 Q 535 962 541 953 Q 548 947 558.7 947.1"/>
<path class="k" stroke-width="2.2"  d="M560.5 947 Q 565 940 572 942 Q 582 944 584 949.8 L584.4 967 L569.5 977.8"/>
<path class="k" stroke-width="1.8"  d="M561 948 Q 566 955 576 954 Q 582 952 584 949.8"/>
<path class="k" stroke-width="2"  d="M557.7 962 Q 562 956 571 957 L584 962"/>
<path class="k" stroke-width="2.2"  d="M557.7 963.4 Q 553 972 556 984 Q 560 988 569.5 977.8"/>
<path class="k" stroke-width="2.6"  d="M566 949 L572 950 M566 964 L572 965"/>
<path style="stroke-linecap:butt" class="d" stroke-width="1.6" stroke-dasharray="18 8" d="M569.5 977.8 L612 1002"/>
<path style="stroke-linecap:butt" class="d" stroke-width="1.6" stroke-dasharray="16 8" d="M490 988.7 L500 995 M517 1005.8 L548.7 1023.9 M554 1004 L580 1017"/>
<path style="stroke-linecap:butt" class="k" stroke-width="2.6" stroke-dasharray="5 2" d="M479 1047 L667 994.8 Q 684 992 684 1009 Q 683 1030 664.8 1056.7 L648 1068.6 L457.6 1166.2 Q 448 1170 441 1163.8 Q 429 1150 427.9 1120 Q 430 1085 450 1065 Q 462 1053 479 1047"/>
<path style="stroke-linecap:butt" class="k" stroke-width="2" stroke-dasharray="4 2" d="M468 1093 Q 475 1088 480 1092 Q 486 1086 492 1090 Q 494 1102 490 1116 Q 484 1124 474 1125 Q 462 1120 462 1110 Q 463 1104 465 1099 Q 462 1096 468 1093"/>
<path class="k" stroke-width="1.8"  d="M452 1118 Q 449 1121 452 1124 M490 1082 L494 1080 M491 1119 L494 1124"/>
<path style="stroke-linecap:butt" class="k" stroke-width="2.2" stroke-dasharray="6 2" d="M636 1040 Q 640 1022 660 1018 L666 1019 L671 1027 Q 665 1040 648 1046 L630 1047 L626 1043"/>
<path class="k" stroke-width="2"  d="M594 1034 L597 1036 M601 1051 L604 1052 M548 1087 L551 1089"/>
<path style="stroke-linecap:butt" class="d" stroke-width="1.6" stroke-dasharray="16 8" d="M548 1087.6 L619.5 1128"/>
<path style="stroke-linecap:butt" class="d" stroke-width="1.6" stroke-dasharray="16 8" d="M600.5 1052 L679 1097"/>
<path style="stroke-linecap:butt" class="d" stroke-width="1.6" stroke-dasharray="16 8" d="M624.3 1044.8 L708 1091"/>
<!-- p_f -->
<path class="k" stroke-width="2"  d="M716 1021.5 L722 1019.5 L731.5 1025 L731 1029 L725 1032.3 Z M718 1023 L727 1028"/>
<path class="l" stroke-width="2" d="M731.5 1027 L765.5 1027"/>
<path style="stroke-linecap:butt" class="d" stroke-width="1.6" stroke-dasharray="5 5" d="M725 1034 L726 1061"/>
<path class="k" stroke-width="2.2"  d="M707.9 1054.7 Q 714 1050 719.7 1055.3 L768.3 1083.6 L769.6 1087.5 L764.4 1095.4 L710 1065.2 Q 704 1061 706 1057 Z"/>
<path class="k" stroke-width="1.5"  d="M765 1084 Q 760 1090 764.4 1095.4"/>
<path class="k" stroke-width="3.5"  d="M722 1054 L728 1060"/>
<path class="k" stroke-width="2.2"  d="M780 1090.1 Q 774 1089 775 1095 Q 771 1100 776.2 1103.3 L818.2 1126.9 M780 1090.1 L826.1 1115.1"/>
<path class="k" stroke-width="2.2"  d="M851.7 1130.0 L855.6 1132.0 L855.2 1134.0 L850.9 1134.5 L850.3 1135.9 L852.8 1139.6 L851.6 1141.2 L847.5 1139.5 L846.3 1140.5 L846.9 1144.9 L845.1 1145.7 L842.2 1142.4 L840.7 1142.7 L839.2 1146.8 L837.2 1146.7 L836.2 1142.4 L834.8 1141.9 L831.5 1144.9 L829.8 1143.9 L830.9 1139.5 L829.8 1138.5 L825.6 1139.6 L824.6 1137.8 L827.5 1134.5 L827.1 1133.1 L822.8 1132.0 L822.7 1130.0 L826.8 1128.5 L827.1 1126.9 L823.8 1124.0 L824.6 1122.2 L828.9 1122.8 L829.8 1121.5 L828.3 1117.4 L829.8 1116.1 L833.4 1118.7 L834.8 1118.1 L835.3 1113.7 L837.2 1113.3 L839.2 1117.2 L840.7 1117.3 L843.1 1113.7 L845.1 1114.3 L845.0 1118.7 L846.3 1119.5 L850.1 1117.4 L851.6 1118.8 L849.5 1122.8 L850.3 1124.1 L854.6 1124.0 L855.2 1126.0 L851.6 1128.5 Z"/>
<path class="k" stroke-width="2.2" d="M847.7 1133.7 L846.8 1135.6 L845.7 1137.3 L844.3 1138.7 L842.7 1139.8 L841.0 1140.5 L839.3 1140.8 L837.6 1140.6 L836.0 1140.1 L834.6 1139.1 L833.5 1137.8 L832.6 1136.2 L832.1 1134.3 L831.9 1132.3 L832.1 1130.3 L832.7 1128.3 L833.6 1126.4 L834.7 1124.7 L836.1 1123.3 L837.7 1122.2 L839.4 1121.5 L841.1 1121.2 L842.8 1121.4 L844.4 1121.9 L845.8 1122.9 L846.9 1124.2 L847.8 1125.8 L848.3 1127.7 L848.5 1129.7 L848.3 1131.7 L847.7 1133.7"/>
<path class="k" stroke-width="1.5" d="M846.4 1131.5 L845.5 1133.5 L844.2 1135.1 L842.7 1136.2 L841.2 1136.7 L839.8 1136.6 L838.6 1135.8 L837.8 1134.4 L837.4 1132.6 L837.4 1130.6 L838.0 1128.5 L838.9 1126.5 L840.2 1124.9 L841.7 1123.8 L843.2 1123.3 L844.6 1123.4 L845.8 1124.2 L846.6 1125.6 L847.0 1127.4 L847.0 1129.4 L846.4 1131.5"/>
<path class="k" stroke-width="3"  d="M826 1114 L821 1125 L828 1133"/>
<path class="l" stroke-width="1.8" d="M826.8 1079.6 L810.3 1105.9"/>
<path class="l" stroke-width="2" d="M874.5 988 L845 1106"/>
<path d="M843.5 1110 L842 1097 L849 1099 Z" fill="#111"/>
<path class="k" stroke-width="2.2"  d="M695.7 1101.0 L691.0 1109.2 L681.5 1109.2 L676.7 1101.0 L681.5 1092.8 L691.0 1092.8 Z"/><circle class="k" stroke-width="1.6" cx="685.2" cy="1101.5" r="5.9"/><path class="k" stroke-width="1.4"  d="M687.2 1097 L690.2 1099 L686.2 1104 L690.2 1105"/>
<path class="k" stroke-width="2.2"  d="M752.5 1111.5 L747.5 1120.2 L737.5 1120.2 L732.5 1111.5 L737.5 1102.8 L747.5 1102.8 Z"/><circle class="k" stroke-width="1.6" cx="741.5" cy="1112.0" r="6.2"/><path class="k" stroke-width="1.4"  d="M743.5 1107.5 L746.5 1109.5 L742.5 1114.5 L746.5 1115.5"/>
<path class="k" stroke-width="2.2"  d="M639.0 1133.7 L634.5 1141.5 L625.5 1141.5 L621.0 1133.7 L625.5 1125.9 L634.5 1125.9 Z"/><circle class="k" stroke-width="1.6" cx="629" cy="1134.2" r="5.6"/><path class="k" stroke-width="1.4"  d="M631 1129.7 L634 1131.7 L630 1136.7 L634 1137.7"/>
<path class="l" stroke-width="1.8" d="M705.7 1136 L690 1112 M705.7 1136 L737 1120"/>
<path class="l" stroke-width="1.8" d="M604.5 1175 L623 1142"/>
<path class="k" stroke-width="2.2"  d="M645 1138 Q 637 1140 638 1148 Q 639 1152 643 1154 L669 1166 M645 1138 L678 1154.5"/>
<path class="k" stroke-width="2" d="M678.5 1162.3 L677.5 1164.0 L676.2 1165.4 L674.8 1166.5 L673.2 1167.0 L671.7 1167.2 L670.3 1166.8 L669.1 1166.0 L668.3 1164.7 L667.7 1163.2 L667.6 1161.4 L667.9 1159.5 L668.5 1157.7 L669.5 1156.0 L670.8 1154.6 L672.2 1153.5 L673.8 1153.0 L675.3 1152.8 L676.7 1153.2 L677.9 1154.0 L678.7 1155.3 L679.3 1156.8 L679.4 1158.6 L679.1 1160.5 L678.5 1162.3"/>
<path class="k" stroke-width="1.4"  d="M671 1158 Q 674 1156 676 1160"/>
<path class="k" stroke-width="2.2"  d="M757 1117 Q 750 1118 751 1126 Q 752 1130 756 1132 L778 1142 M757 1117 L785 1131"/>
<path class="k" stroke-width="2" d="M786.5 1137.8 L785.5 1139.5 L784.2 1140.9 L782.8 1142.0 L781.2 1142.5 L779.7 1142.7 L778.3 1142.3 L777.1 1141.5 L776.3 1140.2 L775.7 1138.7 L775.6 1136.9 L775.9 1135.0 L776.5 1133.2 L777.5 1131.5 L778.8 1130.1 L780.2 1129.0 L781.8 1128.5 L783.3 1128.3 L784.7 1128.7 L785.9 1129.5 L786.7 1130.8 L787.3 1132.3 L787.4 1134.1 L787.1 1136.0 L786.5 1137.8"/>
<path class="k" stroke-width="1.4"  d="M779 1133 Q 782 1131 784 1136"/>
<path class="l" stroke-width="1.8" d="M642.5 1192.3 L659.8 1164.7"/>
<path class="l" stroke-width="1.8" d="M754 1167 L767.8 1139.4"/>
<path style="stroke-linecap:butt" class="d" stroke-width="1.6" stroke-dasharray="16 8" d="M680 1162 L700 1172"/>
<path d="M758 1190 L775 1183 L795 1176 L814 1170.5 L832 1172.5 L833 1177 L812 1185 L792 1190.5 L770 1197 L759 1196 Z" fill="#151515" stroke="#111" stroke-width="2"/>
<path d="M765 1192 L768 1191 M776 1188 L779 1187 M786 1185 L789 1184 M797 1181 L800 1180 M807 1178 L810 1177 M817 1175 L820 1174.5 M825 1175 L828 1174.5" stroke="#fff" stroke-width="2"/>
<path class="l" stroke-width="1.6" d="M818.8 1208 Q 815 1196 807 1188"/>
<path class="l" stroke-width="2.2" d="M597.4 1316 L700 1315 L768.6 1197"/>
<path class="l" stroke-width="2.2" d="M562.7 1247.5 L678.2 1246.5 L686 1113 M678.2 1246.5 L739 1123"/>
<path d="M686 1110 L683 1123 L689 1123 Z M740 1120 L734 1131 L740 1133 Z" fill="#111"/>
<!-- p_g -->
<path style="stroke-linecap:butt" class="d" stroke-width="1.7" stroke-dasharray="12 7" d="M763 1191.8 L745.2 1198.7 L717.6 1209.6 L698 1229 L687 1262.8 L690 1284.4 L707.8 1294.3 L727.5 1286.4 L798.4 1252 L904 1192.4 Q 925 1175 921.4 1160 Q 915 1146 900 1148 L852 1167"/>
<path style="stroke-linecap:butt" class="d" stroke-width="1.6" stroke-dasharray="18 8" d="M680 1161.4 L831.7 1251"/>
<path style="stroke-linecap:butt" class="d" stroke-width="1.6" stroke-dasharray="18 8" d="M783.4 1140.7 L928.3 1220"/>
<path class="k" stroke-width="2.6"  d="M824.8 1251 L1019.7 1190.7 Q 1045 1192 1058 1212 Q 1066 1232 1059 1251 Q 1050 1266 1035 1275 L849 1385.5 Q 838 1390 828.3 1387.2 Q 812 1382 800 1370 Q 783 1350 780 1327 Q 782 1300 796 1279 Q 808 1261 824.8 1251"/>
<path class="k" stroke-width="2"  d="M1045.5 1208 L855.9 1271.7 Q 835 1282 824.8 1306.2 Q 812 1330 812.8 1354 Q 813 1370 818 1382"/>
<path class="k" stroke-width="1.3"  d="M1049 1211 L858 1275 Q 839 1285 828 1308 Q 816 1332 817 1356 Q 818 1370 822 1384"/>
<path class="k" stroke-width="2.2" d="M888.0 1342.0 L885.4 1346.2 L882.5 1350.2 L879.2 1353.8 L875.7 1357.0 L871.9 1359.6 L868.0 1361.8 L864.0 1363.4 L859.9 1364.3 L855.9 1364.7 L852.1 1364.5 L848.4 1363.6 L845.0 1362.2 L841.8 1360.1 L839.1 1357.5 L836.7 1354.5 L834.8 1351.0 L833.3 1347.1 L832.4 1342.9 L832.0 1338.4 L832.1 1333.8 L832.7 1329.1 L833.9 1324.4 L835.5 1319.7 L837.6 1315.2 L840.2 1311.0 L843.1 1307.0 L846.4 1303.4 L849.9 1300.2 L853.7 1297.6 L857.6 1295.4 L861.6 1293.8 L865.7 1292.9 L869.7 1292.5 L873.5 1292.7 L877.2 1293.6 L880.6 1295.0 L883.8 1297.1 L886.5 1299.7 L888.9 1302.7 L890.8 1306.2 L892.3 1310.1 L893.2 1314.3 L893.6 1318.8 L893.5 1323.4 L892.9 1328.1 L891.7 1332.8 L890.1 1337.5 L888.0 1342.0"/>
<path class="k" stroke-width="1.8" d="M876.8 1314.0 L878.6 1314.6 L880.2 1315.4 L881.6 1316.5 L882.9 1317.9 L884.0 1319.5 L884.9 1321.2 L885.6 1323.1 L886.1 1325.2 L886.3 1327.4 L886.3 1329.7 L886.1 1332.0 L885.6 1334.3 L885.0 1336.7 L884.1 1339.0 L883.0 1341.2 L881.7 1343.3 L880.2 1345.3 L878.6 1347.1 L876.9 1348.7 L875.1 1350.1 L873.1 1351.3 L871.2 1352.2 L869.2 1352.9 L867.2 1353.3 L865.3 1353.4 L863.4 1353.3 L861.6 1352.9 L859.9 1352.2 L858.3 1351.2 L856.9 1350.0 L855.7 1348.6 L854.6 1347.0 L853.8 1345.2 L853.2 1343.2 L852.8 1341.1 L852.6 1338.8 L852.7 1336.6 L853.0 1334.2 L853.6 1331.9 L854.3 1329.6"/>
<path class="k" stroke-width="1.8" d="M923.6 1304.0 L922.4 1305.4 L921.0 1306.0 L919.6 1305.8 L918.8 1304.8 L918.6 1303.2 L919.2 1301.5 L920.4 1300.2 L921.8 1299.5 L923.1 1299.8 L924.0 1300.8 L924.1 1302.4 L923.6 1304.0"/>
<path class="k" stroke-width="1.8" d="M1001.2 1262.7 L1000.0 1264.0 L998.6 1264.7 L997.2 1264.4 L996.4 1263.4 L996.2 1261.8 L996.8 1260.2 L998.0 1258.8 L999.4 1258.2 L1000.8 1258.4 L1001.6 1259.4 L1001.8 1261.0 L1001.2 1262.7"/>
<path style="stroke-linecap:butt" class="d" stroke-width="1.6" stroke-dasharray="14 7" d="M925 1305 L983.4 1340.7 M1003 1263 L1059.3 1295.9"/>
<path class="k" stroke-width="2.2"  d="M999.3 1342.4 L994.8 1350.2 L985.8 1350.2 L981.3 1342.4 L985.8 1334.6 L994.8 1334.6 Z"/><circle class="k" stroke-width="1.6" cx="989.3" cy="1342.9" r="5.6"/><path class="k" stroke-width="1.4"  d="M991.3 1338.4 L994.3 1340.4 L990.3 1345.4 L994.3 1346.4"/>
<path class="k" stroke-width="2.2"  d="M1075.7 1299.3 L1071.0 1307.5 L1061.5 1307.5 L1056.7 1299.3 L1061.5 1291.1 L1071.0 1291.1 Z"/><circle class="k" stroke-width="1.6" cx="1065.2" cy="1299.8" r="5.9"/><path class="k" stroke-width="1.4"  d="M1067.2 1295.3 L1070.2 1297.3 L1066.2 1302.3 L1070.2 1303.3"/>
<path class="l" stroke-width="1.6" d="M995.5 1351 L1028 1378.6 L1064.5 1308"/>
<path class="l" stroke-width="1.6" d="M725.5 1332 L780.7 1332"/>
<!-- p_h -->
<rect x="10" y="609" width="2.5" height="2.5" fill="#333"/>
<rect x="1179" y="1382" width="2" height="2" fill="#333"/>
<rect x="1187" y="1383.5" width="2" height="2" fill="#333"/>
<rect x="1182" y="1570" width="2" height="2" fill="#333"/>
<rect x="555" y="1362" width="1.8" height="1.8" fill="#333"/>
<rect x="1.5" y="994" width="2" height="2" fill="#333"/></svg>
</body></html>
